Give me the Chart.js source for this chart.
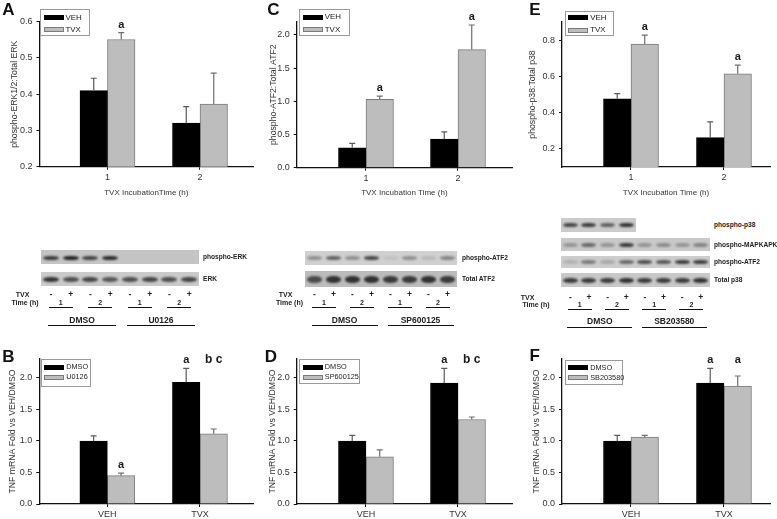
<!DOCTYPE html>
<html><head><meta charset="utf-8">
<script src="https://cdn.jsdelivr.net/npm/chart.js@4.4.1/dist/chart.umd.min.js"></script>
<style>
html,body{margin:0;padding:0;background:#fff;}
#root{position:relative;width:777px;height:519px;overflow:hidden;font-family:Arial,"Liberation Sans",sans-serif;color:#222;}
.t{position:absolute;white-space:nowrap;line-height:1;transform:translate(-50%,-50%);}
.leg{position:absolute;background:#fff;border:1px solid #9a9a9a;box-sizing:border-box;z-index:5;}
.leg .sw{position:absolute;height:5px;width:20px;box-sizing:border-box;}
.leg .lt{position:absolute;white-space:nowrap;line-height:1;transform:translateY(-50%);color:#222;}
.strip{position:absolute;overflow:hidden;}
.band{position:absolute;border-radius:45%;filter:blur(0.8px);}
.hl{position:absolute;height:1.3px;background:#111;}
canvas{position:absolute;}
</style></head><body><div id="root"></div>
<script>
// ---------------- DATA ----------------
const timeCats = ['1', '2'];
const treatCats = ['VEH', 'TVX'];

// Panel A: phospho-ERK1/2 : Total ERK
const aSeriesNames = ['VEH', 'TVX'];
const aVeh = [0.41, 0.32];
const aVehErr = [0.034, 0.046];
const aVehSig = ['', ''];
const aTvx = [0.551, 0.373];
const aTvxErr = [0.019, 0.085];
const aTvxSig = ['a', ''];
const aYTicks = [0.2, 0.3, 0.4, 0.5, 0.6];

// Panel C: phospho-ATF2 : Total ATF2
const cSeriesNames = ['VEH', 'TVX'];
const cVeh = [0.30, 0.43];
const cVehErr = [0.067, 0.11];
const cVehSig = ['', ''];
const cTvx = [1.03, 1.78];
const cTvxErr = [0.05, 0.37];
const cTvxSig = ['a', 'a'];
const cYTicks = [0.0, 0.5, 1.0, 1.5, 2.0];

// Panel E: phospho-p38 : Total p38
const eSeriesNames = ['VEH', 'TVX'];
const eVeh = [0.476, 0.262];
const eVehErr = [0.029, 0.087];
const eVehSig = ['', ''];
const eTvx = [0.778, 0.614];
const eTvxErr = [0.05, 0.048];
const eTvxSig = ['a', 'a'];
const eYTicks = [0.2, 0.4, 0.6, 0.8];

// Panel B: TNF mRNA, U0126
const bSeriesNames = ['DMSO', 'U0126'];
const bDmso = [1.0, 1.93];
const bDmsoErr = [0.08, 0.22];
const bDmsoSig = ['', 'a'];
const bInh = [0.45, 1.115];
const bInhErr = [0.04, 0.075];
const bInhSig = ['a', 'b c'];

// Panel D: TNF mRNA, SP600125
const dSeriesNames = ['DMSO', 'SP600125'];
const dDmso = [1.0, 1.92];
const dDmsoErr = [0.09, 0.23];
const dDmsoSig = ['', 'a'];
const dInh = [0.75, 1.34];
const dInhErr = [0.11, 0.04];
const dInhSig = ['', 'b c'];

// Panel F: TNF mRNA, SB203580
const fSeriesNames = ['DMSO', 'SB203580'];
const fDmso = [1.0, 1.92];
const fDmsoErr = [0.09, 0.23];
const fDmsoSig = ['', 'a'];
const fInh = [1.06, 1.87];
const fInhErr = [0.03, 0.16];
const fInhSig = ['', 'a'];

const tnfYTicks = [0.0, 0.5, 1.0, 1.5, 2.0];

// Western blot annotations
const laneTVX = ['-', '+', '-', '+', '-', '+', '-', '+'];
const laneTime = ['1', '2', '1', '2'];
const aBlotRows = ['phospho-ERK', 'ERK'];
const aBlotBands = [[0.8, 0.95, 0.75, 0.9, 0, 0, 0, 0], [0.85, 0.7, 0.75, 0.65, 0.7, 0.75, 0.7, 0.75]];
const aBlotGroups = ['DMSO', 'U0126'];
const cBlotRows = ['phospho-ATF2', 'Total ATF2'];
const cBlotBands = [[0.35, 0.6, 0.35, 0.75, 0.08, 0.35, 0.12, 0.4], [0.7, 0.85, 0.85, 0.85, 0.8, 0.8, 0.85, 0.8]];
const cBlotGroups = ['DMSO', 'SP600125'];
const eBlotRows = ['phospho-p38', 'phospho-MAPKAPK2', 'phospho-ATF2', 'Total p38'];
const eBlotBands = [[0.75, 0.8, 0.6, 0.85], [0.3, 0.55, 0.3, 0.8, 0.3, 0.35, 0.3, 0.4], [0.15, 0.45, 0.2, 0.55, 0.7, 0.65, 0.8, 0.8], [0.8, 0.8, 0.8, 0.85, 0.8, 0.8, 0.8, 0.85]];
const eBlotGroups = ['DMSO', 'SB203580'];

// ---------------- STYLE / LAYOUT ----------------
const FF = 'Arial, "Liberation Sans", sans-serif';
const BLACK = '#000000', GRAY = '#bdbdbd', GRAY_B = '#7a7a7a';
const root = document.getElementById('root');

function el(cls, css, text) {
  const d = document.createElement('div');
  if (cls) d.className = cls;
  Object.assign(d.style, css);
  if (text !== undefined) d.textContent = text;
  root.appendChild(d);
  return d;
}
function txt(s, x, y, size, bold, color) {
  return el('t', {left: x + 'px', top: y + 'px', fontSize: size + 'px', fontWeight: bold ? 'bold' : 'normal', color: color || '#222'}, s);
}

const panels = [
  {letter: 'A', lpos: [8.3, 9.2], box: [0, 0, 259, 200], axisX: 39.5, top: 21.7, bottom: 166.7, right: 253,
   yMin: 0.2, yMax: 0.6, yTicks: aYTicks, xMin: 0.265, xMax: 2.573, cats: timeCats,
   yTitle: 'phospho-ERK1/2:Total ERK', yTitleX: 15, xTitle: 'TVX IncubationTime (h)', xTitleY: 193,
   series: [{label: aSeriesNames[0], v: aVeh, e: aVehErr, s: aVehSig}, {label: aSeriesNames[1], v: aTvx, e: aTvxErr, s: aTvxSig}],
   legend: {x: 40, y: 9.3, w: 50, h: 26.4, rows: [8.4, 20.4], fs: 7.9}},
  {letter: 'C', lpos: [273.3, 9.2], box: [260, 0, 257, 200], axisX: 296.7, top: 21.7, bottom: 167.7, right: 512,
   yMin: 0, yMax: 2.2, yTicks: cYTicks, xMin: 0.247, xMax: 2.587, cats: timeCats,
   yTitle: 'phospho-ATF2:Total ATF2', yTitleX: 273.3, xTitle: 'TVX Incubation Time (h)', xTitleY: 193,
   series: [{label: cSeriesNames[0], v: cVeh, e: cVehErr, s: cVehSig}, {label: cSeriesNames[1], v: cTvx, e: cTvxErr, s: cTvxSig}],
   legend: {x: 299.3, y: 9.3, w: 50.7, h: 26.4, rows: [7.9, 20.5], fs: 7.9}},
  {letter: 'E', lpos: [535, 9], box: [517, 0, 260, 200], axisX: 562, top: 22, bottom: 167, right: 770,
   yMin: 0.1, yMax: 0.9, yTicks: eYTicks, xMin: 0.258, xMax: 2.495, cats: timeCats,
   yTitle: 'phospho-p38:Total p38', yTitleX: 533, xTitle: 'TVX Incubation Time (h)', xTitleY: 193,
   series: [{label: eSeriesNames[0], v: eVeh, e: eVehErr, s: eVehSig}, {label: eSeriesNames[1], v: eTvx, e: eTvxErr, s: eTvxSig}],
   legend: {x: 564.7, y: 11, w: 49, h: 25, rows: [6.9, 19.3], fs: 7.9}},
  {letter: 'B', lpos: [8.3, 355.8], box: [0, 340, 259, 179], axisX: 39.3, top: 359, bottom: 504, right: 253,
   yMin: 0, yMax: 2.3, yTicks: tnfYTicks, xMin: 0.265, xMax: 2.573, cats: treatCats,
   yTitle: 'TNF mRNA Fold vs VEH/DMSO', yTitleX: 12.7,
   series: [{label: bSeriesNames[0], v: bDmso, e: bDmsoErr, s: bDmsoSig}, {label: bSeriesNames[1], v: bInh, e: bInhErr, s: bInhSig}],
   legend: {x: 40.7, y: 359.3, w: 50, h: 27.4, rows: [7.9, 18.2], fs: 7.3}},
  {letter: 'D', lpos: [270.8, 355.8], box: [260, 340, 257, 179], axisX: 296.7, top: 359, bottom: 504, right: 512,
   yMin: 0, yMax: 2.3, yTicks: tnfYTicks, xMin: 0.247, xMax: 2.587, cats: treatCats,
   yTitle: 'TNF mRNA Fold vs VEH/DMSO', yTitleX: 272.7,
   series: [{label: dSeriesNames[0], v: dDmso, e: dDmsoErr, s: dDmsoSig}, {label: dSeriesNames[1], v: dInh, e: dInhErr, s: dInhSig}],
   legend: {x: 299.3, y: 359.3, w: 60.7, h: 25, rows: [7.9, 18.2], fs: 7.3}},
  {letter: 'F', lpos: [534.7, 354.7], box: [517, 340, 260, 179], axisX: 562, top: 359, bottom: 504, right: 770,
   yMin: 0, yMax: 2.3, yTicks: tnfYTicks, xMin: 0.258, xMax: 2.495, cats: treatCats,
   yTitle: 'TNF mRNA Fold vs VEH/DMSO', yTitleX: 537,
   series: [{label: fSeriesNames[0], v: fDmso, e: fDmsoErr, s: fDmsoSig}, {label: fSeriesNames[1], v: fInh, e: fInhErr, s: fInhSig}],
   legend: {x: 564.7, y: 360, w: 58.3, h: 25, rows: [7.5, 17.8], fs: 7.3}}
];

const errPlugin = {
  id: 'errs',
  afterDatasetsDraw(chart) {
    const ctx = chart.ctx, ys = chart.scales.y;
    const tops = [];
    chart.data.datasets.forEach((ds, di) => {
      const meta = chart.getDatasetMeta(di);
      tops[di] = [];
      meta.data.forEach((bar, i) => {
        const val = ds.data[i].y, e = ds.err[i];
        const yt = ys.getPixelForValue(val + e);
        tops[di][i] = yt;
        ctx.save();
        ctx.strokeStyle = ds.errColor; ctx.lineWidth = 1.2;
        ctx.beginPath();
        ctx.moveTo(bar.x, bar.y); ctx.lineTo(bar.x, yt);
        ctx.moveTo(bar.x - 3, yt); ctx.lineTo(bar.x + 3, yt);
        ctx.stroke(); ctx.restore();
      });
    });
    const n = chart.data.datasets[0].data.length;
    for (let i = 0; i < n; i++) {
      const withSig = chart.data.datasets.map((d, di) => di).filter(di => chart.data.datasets[di].sig[i]);
      if (!withSig.length) continue;
      const level = Math.min(...withSig.map(di => tops[di][i]));
      withSig.forEach(di => {
        const ds = chart.data.datasets[di];
        const bar = chart.getDatasetMeta(di).data[i];
        const y = withSig.length > 1 ? level : tops[di][i];
        ctx.save();
        ctx.fillStyle = '#1a1a1a';
        ctx.font = 'bold ' + (ds.sig[i].length > 1 ? 12 : 11) + 'px ' + FF;
        ctx.textAlign = 'center'; ctx.textBaseline = 'alphabetic';
        ctx.fillText(ds.sig[i], bar.x, y - 5);
        ctx.restore();
      });
    }
  }
};

function buildChart(p) {
  const [L, T, W, H] = p.box;
  const cv = document.createElement('canvas');
  cv.width = W; cv.height = H;
  Object.assign(cv.style, {left: L + 'px', top: T + 'px', width: W + 'px', height: H + 'px'});
  root.appendChild(cv);
  const datasets = p.series.map((s, i) => ({
    label: s.label,
    data: s.v.map((y, j) => ({x: j + 1, y})),
    err: s.e, sig: s.s,
    backgroundColor: i === 0 ? BLACK : GRAY,
    borderColor: i === 0 ? BLACK : GRAY_B,
    borderWidth: 1,
    barThickness: 27.5,
    errColor: i === 0 ? '#5a5a5a' : '#6e6e6e'
  }));
  new Chart(cv, {
    type: 'bar',
    data: {datasets},
    options: {
      responsive: false, animation: false, devicePixelRatio: 1,
      layout: {padding: {left: 0, right: L + W - p.right, top: p.top - T, bottom: 0}},
      plugins: {legend: {display: false}, tooltip: {enabled: false}},
      scales: {
        x: {
          type: 'linear', min: p.xMin, max: p.xMax, offset: false,
          grid: {drawOnChartArea: false, drawTicks: true, tickLength: 3, color: '#111', offset: false},
          border: {display: true, color: '#111', width: 1.3},
          ticks: {autoSkip: false, maxRotation: 0, padding: 2, color: '#333', font: {size: 9, family: FF},
                  callback: v => p.cats[Math.round(v) - 1]},
          afterBuildTicks: s => { s.ticks = p.cats.map((c, i) => ({value: i + 1})); },
          afterFit: s => { s.height = T + H - p.bottom; },
          title: {display: !!p.xTitle, text: p.xTitle || '', color: '#333', font: {size: 8, family: FF},
                  padding: {top: 0, bottom: p.xTitle ? (T + H - p.xTitleY - 4.8) : 0}}
        },
        y: {
          type: 'linear', min: p.yMin, max: p.yMax,
          grid: {drawOnChartArea: false, drawTicks: true, tickLength: 3, color: '#111'},
          border: {display: true, color: '#111', width: 1.3},
          ticks: {padding: 4, color: '#333', font: {size: 9, family: FF}, callback: v => Number(v).toFixed(1)},
          afterBuildTicks: s => { s.ticks = p.yTicks.map(v => ({value: v})); },
          afterFit: s => { s.width = p.axisX - L; },
          title: {display: true, text: p.yTitle, color: '#333', font: {size: 8.7, family: FF},
                  padding: {top: p.yTitleX - L - 5.2, bottom: 0}}
        }
      }
    },
    plugins: [errPlugin]
  });
  // legend
  const lg = p.legend;
  const box = el('leg', {left: lg.x + 'px', top: lg.y + 'px', width: lg.w + 'px', height: lg.h + 'px'});
  p.series.forEach((s, i) => {
    const sw = document.createElement('div');
    sw.className = 'sw';
    Object.assign(sw.style, {left: '2.5px', top: (lg.rows[i] - 2.5 - 1) + 'px', background: i === 0 ? BLACK : GRAY,
      border: '1px solid ' + (i === 0 ? BLACK : GRAY_B)});
    box.appendChild(sw);
    const t = document.createElement('div');
    t.className = 'lt';
    Object.assign(t.style, {left: '24.5px', top: (lg.rows[i] - 1) + 'px', fontSize: lg.fs + 'px'});
    t.textContent = s.label;
    box.appendChild(t);
  });
  txt(p.letter, p.lpos[0], p.lpos[1], 17, true, '#111');
}
panels.forEach(buildChart);

// ---------------- BLOTS ----------------
const blots = [
  {x0: 41, x1: 199, names: aBlotRows, bands: aBlotBands, groups: aBlotGroups,
   rows: [{y0: 250, y1: 264, bg: '#c4c4c4', bh: 4.5, by: 0.58}, {y0: 272, y1: 286, bg: '#cacaca', bh: 5, by: 0.55}],
   labelX: 203, tvxLbl: [22.5, 294], timeLbl: [25, 302], tvxY: 294, timeY: 302, timeLineY: 307, groupY: 320, groupLineY: 325},
  {x0: 305, x1: 457, names: cBlotRows, bands: cBlotBands, groups: cBlotGroups,
   rows: [{y0: 251, y1: 265, bg: '#d0d0d0', bh: 4, by: 0.5}, {y0: 271, y1: 287, bg: '#bcbcbc', bh: 7, by: 0.55}],
   labelX: 462, tvxLbl: [285.5, 294], timeLbl: [289.5, 302], tvxY: 294, timeY: 302, timeLineY: 307, groupY: 320, groupLineY: 325},
  {x0: 561, x1: 710, names: eBlotRows, bands: eBlotBands, groups: eBlotGroups,
   rows: [{y0: 218, y1: 232, bg: '#cbcbcb', bh: 4.5, by: 0.5}, {y0: 238, y1: 251, bg: '#c9c9c9', bh: 4.5, by: 0.55},
          {y0: 256, y1: 268, bg: '#cdcdcd', bh: 4, by: 0.5}, {y0: 273, y1: 287, bg: '#c8c8c8', bh: 5, by: 0.5}],
   labelX: 714, tvxLbl: [527.5, 297], timeLbl: [536, 304], tvxY: 297, timeY: 304, timeLineY: 309, groupY: 321, groupLineY: 327}
];

function buildBlot(b) {
  const nL = laneTVX.length;
  const lw = (b.x1 - b.x0) / nL;
  const lc = k => b.x0 + lw * (k + 0.5);
  b.rows.forEach((r, ri) => {
    const vals = b.bands[ri];
    const w = vals.length * lw;
    const h = r.y1 - r.y0;
    const strip = el('strip', {left: b.x0 + 'px', top: r.y0 + 'px', width: w + 'px', height: h + 'px', background: r.bg});
    vals.forEach((v, k) => {
      if (v <= 0) return;
      const bd = document.createElement('div');
      bd.className = 'band';
      Object.assign(bd.style, {left: (lw * k + lw * 0.1) + 'px', top: (h * r.by - r.bh / 2) + 'px',
        width: (lw * 0.8) + 'px', height: r.bh + 'px', background: 'rgba(25,25,25,' + v + ')'});
      strip.appendChild(bd);
    });
    const lab = txt(b.names[ri], b.labelX, (r.y0 + r.y1) / 2, 6.6, true, '#222');
    lab.style.transform = 'translate(0,-50%)';
  });
  txt('TVX', b.tvxLbl[0], b.tvxLbl[1], 7, true);
  txt('Time (h)', b.timeLbl[0], b.timeLbl[1], 7, true);
  laneTVX.forEach((s, k) => txt(s, lc(k), b.tvxY, 8.5, true));
  laneTime.forEach((s, k) => {
    const c = (lc(2 * k) + lc(2 * k + 1)) / 2;
    txt(s, c, b.timeY, 7, true);
    el('hl', {left: (c - 12) + 'px', top: b.timeLineY + 'px', width: '24px'});
  });
  b.groups.forEach((g, gi) => {
    const a = lc(gi * 4) - 3, z = lc(gi * 4 + 3) + 6;
    txt(g, (a + z) / 2, b.groupY, 8.5, true);
    el('hl', {left: a + 'px', top: b.groupLineY + 'px', width: (z - a) + 'px'});
  });
}
blots.forEach(buildBlot);
</script></body></html>
